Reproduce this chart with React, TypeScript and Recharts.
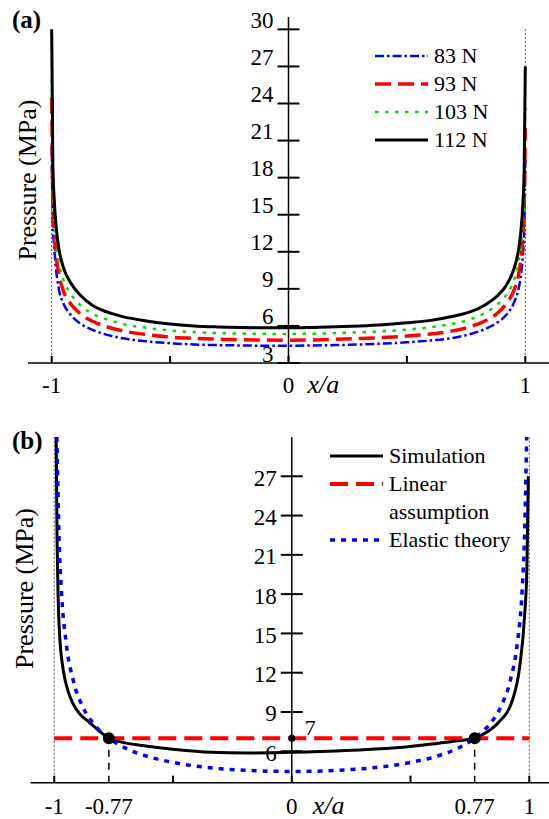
import React from 'react';
import { LineChart, Line, XAxis, YAxis, ReferenceLine, ReferenceDot, Legend, Label } from 'recharts';

const FONT = '"Liberation Serif", "Times New Roman", serif';
const W = 549;

// (a) pressure along the contact for four normal loads
const xA = [-1, -0.995, -0.99, -0.98, -0.97, -0.95, -0.92, -0.88, -0.83, -0.77, -0.7, -0.6, -0.5, -0.4, -0.3, -0.2, -0.1, 0,
  0.1, 0.2, 0.3, 0.4, 0.5, 0.6, 0.7, 0.77, 0.83, 0.88, 0.92, 0.95, 0.97, 0.98, 0.99, 0.995, 1];
const p83 = [20.5, 14, 12.5, 10.3, 9, 7.8, 6.9, 6.2, 5.7, 5.3, 5.0, 4.75, 4.6, 4.5, 4.45, 4.42, 4.4, 4.4,
  4.42, 4.45, 4.5, 4.57, 4.67, 4.82, 5.05, 5.35, 5.75, 6.25, 6.9, 7.8, 8.9, 9.9, 11.8, 13.5, 19.5];
const p93 = [24.5, 16, 13.8, 11.5, 10.2, 8.8, 7.8, 7.0, 6.4, 5.95, 5.6, 5.3, 5.1, 5.0, 4.93, 4.88, 4.86, 4.85,
  4.87, 4.92, 4.98, 5.06, 5.18, 5.35, 5.62, 5.95, 6.4, 7.0, 7.8, 8.8, 10.0, 11.2, 13.3, 15.5, 22];
const p103 = [26, 17.5, 15, 12.6, 11.2, 9.7, 8.6, 7.7, 7.0, 6.55, 6.15, 5.85, 5.62, 5.5, 5.42, 5.38, 5.36, 5.35,
  5.37, 5.42, 5.48, 5.57, 5.7, 5.9, 6.2, 6.55, 7.05, 7.7, 8.5, 9.6, 11, 12.3, 14.6, 17, 24];
const p112 = [30, 19, 16.5, 13.8, 12.3, 10.7, 9.5, 8.5, 7.7, 7.15, 6.75, 6.4, 6.15, 6.0, 5.92, 5.87, 5.85, 5.85,
  5.88, 5.93, 6.0, 6.1, 6.25, 6.45, 6.8, 7.15, 7.7, 8.4, 9.3, 10.5, 12.0, 13.4, 16, 18.5, 27];
const loadNames = ['83 N', '93 N', '103 N', '112 N'];
const yTicksA = [3, 6, 9, 12, 15, 18, 21, 24, 27, 30];
const xTicksA = [-1, -0.5, 0, 0.5, 1];
const xLabelsA = [-1, 0, 1];

// (b) simulation against the linear and elastic-theory distributions
const simX = [-0.992, -0.988, -0.984, -0.98, -0.975, -0.967, -0.955, -0.94, -0.92, -0.89, -0.855, -0.81, -0.77, -0.72,
  -0.63, -0.49, -0.34, -0.19, 0, 0.25, 0.47, 0.62, 0.7, 0.77, 0.82, 0.87, 0.93, 0.96, 0.98, 0.99, 0.996];
const simP = [30, 22, 18, 15.8, 14.2, 12.8, 11.5, 10.5, 9.6, 8.8, 8.25, 7.55, 7.0, 6.72,
  6.44, 6.13, 5.92, 5.87, 5.92, 6.08, 6.3, 6.62, 6.8, 7.0, 7.45, 8.2, 9.95, 12.5, 16.3, 20, 27];
const linX = [-1, 1];
const linP = [7, 7];
const elX = [-0.989, -0.98, -0.97, -0.95, -0.92, -0.88, -0.83, -0.77, -0.7, -0.6, -0.5, -0.4, -0.3, -0.2, -0.1, 0,
  0.1, 0.2, 0.3, 0.4, 0.5, 0.6, 0.7, 0.77, 0.83, 0.88, 0.92, 0.95, 0.97, 0.98, 0.989];
const elP = [30, 22.4, 18.3, 14.3, 11.4, 9.4, 8.0, 7.0, 6.24, 5.57, 5.15, 4.86, 4.67, 4.55, 4.48, 4.46,
  4.48, 4.55, 4.67, 4.86, 5.15, 5.57, 6.24, 7.0, 8.0, 9.4, 11.4, 14.3, 18.3, 22.4, 30];
const crossX = [-0.77, 0.77];
const meanP = 7;
const yTicksB = [6, 9, 12, 15, 18, 21, 24, 27];
const xTicksB = [-1, -0.77, -0.5, 0, 0.5, 0.77, 1];
const xMarksB = [-1, -0.5, 0, 0.5, 1];
const xLabelsB = [-1, -0.77, 0, 0.77, 1];
const methodNames = ['Simulation', 'Linear\nassumption', 'Elastic theory'];

const tableA = xA.map((x, i) => ({ x, p83: p83[i], p93: p93[i], p103: p103[i], p112: p112[i] }));
const simData = simX.map((x, i) => ({ x, p: simP[i] }));
const linData = linX.map((x, i) => ({ x, p: linP[i] }));
const elData = elX.map((x, i) => ({ x, p: elP[i] }));

const stylesA = [
  { key: 'p83', color: '#0000ff', width: 2.5, dash: '9 3 2.5 3' },
  { key: 'p93', color: '#ff0000', width: 3.5, dash: '16 7' },
  { key: 'p103', color: '#00dd00', width: 2.5, dash: '3.5 6.5' },
  { key: 'p112', color: '#000000', width: 3, dash: undefined },
];
const stylesB = [
  { color: '#000000', width: 3, dash: undefined },
  { color: '#ff0000', width: 4, dash: '18 8' },
  { color: '#0000ff', width: 3.5, dash: '5 6' },
];

// the y axis is 1px wide (a zero-width axis is not drawn at all); margins make up for it
const Y_W = 1;
const M_A = { top: 17, right: 0, bottom: 7, left: 27 };
const DOM_XA: [number, number] = [-1.1, 1.1];
const M_B = { top: 32, right: 0, bottom: 6.3, left: 29.5 };
const DOM_XB: [number, number] = [-1.1, 1.083];

const zeroX = (m: { left: number; right: number }, dom: [number, number]) =>
  m.left + Y_W + ((W - m.left - Y_W - m.right) * (0 - dom[0])) / (dom[1] - dom[0]);
const CX_A = zeroX(M_A, DOM_XA);
const CX_B = zeroX(M_B, DOM_XB);

// y ticks drawn across the centre axis, labels to its left
function makeYTick(cx: number, dy: number) {
  return (props: any) => {
    const { y, payload } = props;
    return (
      <g>
        <line x1={cx - 11} x2={cx + 11} y1={y} y2={y} stroke="#000" strokeWidth={2} />
        <text x={cx - 15} y={y + dy} textAnchor="end" dominantBaseline="central" fontSize={23} fill="#000">
          {payload.value}
        </text>
      </g>
    );
  };
}

// inward tick marks on the x axis, labels only on some positions
function makeXTick(marks: number[], labels: number[], dy: number) {
  return (props: any) => {
    const { x, y, payload } = props;
    const v = payload.value;
    return (
      <g>
        {marks.includes(v) && <line x1={x} x2={x} y1={y} y2={y - 7} stroke="#000" strokeWidth={2} />}
        {labels.includes(v) && (
          <text x={x} y={y + dy} textAnchor="middle" fontSize={23} fill="#000">
            {String(v)}
          </text>
        )}
      </g>
    );
  };
}

function LegendBox({ names, styles }: { names: string[]; styles: { color: string; width: number; dash?: string }[] }) {
  const rowH = 28;
  return (
    <div style={{ fontFamily: FONT, fontSize: 22, lineHeight: `${rowH}px`, color: '#000' }}>
      {names.map((name, i) => (
        <div key={name} style={{ display: 'flex', alignItems: 'flex-start' }}>
          <svg width={53} height={rowH} style={{ flex: 'none' }}>
            <line x1={0} x2={53} y1={rowH / 2} y2={rowH / 2} stroke={styles[i].color}
              strokeWidth={styles[i].width} strokeDasharray={styles[i].dash} />
          </svg>
          <div style={{ marginLeft: 6, whiteSpace: 'pre' }}>{name}</div>
        </div>
      ))}
    </div>
  );
}

function PanelA() {
  return (
    <LineChart width={W} height={400} data={tableA} margin={M_A}>
      <XAxis dataKey="x" type="number" domain={DOM_XA} ticks={xTicksA} interval={0} allowDataOverflow
        tick={makeXTick(xTicksA, xLabelsA, 30)} tickLine={false} tickSize={0} tickMargin={0}
        axisLine={{ stroke: '#000', strokeWidth: 1.5 }} height={30}>
        <Label content={(p: any) => (
          <text x={CX_A + 19} y={(p.viewBox?.y ?? 363) + 30} fontSize={26} fontStyle="italic" fill="#000">x/a</text>
        )} />
      </XAxis>
      <YAxis type="number" domain={[3, 31]} ticks={yTicksA} interval={0} allowDataOverflow width={Y_W}
        axisLine={false} tickLine={false} tick={makeYTick(CX_A, -9)}>
        <Label content={() => (
          <text x={36} y={180} transform="rotate(-90 36 180)" textAnchor="middle" fontSize={26} fill="#000">
            Pressure (MPa)
          </text>
        )} />
      </YAxis>
      <ReferenceLine segment={[{ x: -1, y: 3 }, { x: -1, y: 30 }]} stroke="#555" strokeWidth={1} strokeDasharray="2 2" />
      <ReferenceLine segment={[{ x: 1, y: 3 }, { x: 1, y: 30 }]} stroke="#555" strokeWidth={1} strokeDasharray="2 2" />
      <ReferenceLine x={0} stroke="#000" strokeWidth={1.5} />
      {stylesA.map((s, i) => (
        <Line key={s.key} dataKey={s.key} name={loadNames[i]} type="monotone" stroke={s.color}
          strokeWidth={s.width} strokeDasharray={s.dash} dot={false} activeDot={false} isAnimationActive={false} />
      ))}
      <Legend layout="vertical" align="center" verticalAlign="middle"
        wrapperStyle={{ left: 375, top: 41.5, width: 'auto', height: 'auto' }}
        content={() => <LegendBox names={loadNames} styles={stylesA} />} />
    </LineChart>
  );
}

function PanelB() {
  return (
    <LineChart width={W} height={414} margin={M_B}>
      <XAxis dataKey="x" type="number" domain={DOM_XB} ticks={xTicksB} interval={0} allowDataOverflow
        tick={makeXTick(xMarksB, xLabelsB, 31)} tickLine={false} tickSize={0} tickMargin={0}
        axisLine={{ stroke: '#000', strokeWidth: 1.5 }} height={30}>
        <Label content={(p: any) => (
          <text x={CX_B + 21} y={(p.viewBox?.y ?? 377.7) + 31} fontSize={26} fontStyle="italic" fill="#000">x/a</text>
        )} />
      </XAxis>
      <YAxis type="number" domain={[3.6, 30]} ticks={yTicksB} interval={0} allowDataOverflow width={Y_W}
        axisLine={false} tickLine={false} tick={makeYTick(CX_B, 2)}>
        <Label content={() => (
          <text x={33} y={183.5} transform="rotate(-90 33 183.5)" textAnchor="middle" fontSize={26} fill="#000">
            Pressure (MPa)
          </text>
        )} />
      </YAxis>
      <ReferenceLine segment={[{ x: -1, y: 3.6 }, { x: -1, y: 30 }]} stroke="#555" strokeWidth={1} strokeDasharray="2 2" />
      <ReferenceLine segment={[{ x: 1, y: 3.6 }, { x: 1, y: 30 }]} stroke="#555" strokeWidth={1} strokeDasharray="2 2" />
      <ReferenceLine x={0} stroke="#000" strokeWidth={1.5} />
      {crossX.map((cx) => (
        <ReferenceLine key={cx} segment={[{ x: cx, y: 3.6 }, { x: cx, y: meanP }]} stroke="#000"
          strokeWidth={1.5} strokeDasharray="7 6" />
      ))}
      <Line data={simData} dataKey="p" name={methodNames[0]} type="monotone" stroke={stylesB[0].color}
        strokeWidth={stylesB[0].width} dot={false} activeDot={false} isAnimationActive={false} />
      <Line data={linData} dataKey="p" name={methodNames[1]} type="linear" stroke={stylesB[1].color}
        strokeWidth={stylesB[1].width} strokeDasharray={stylesB[1].dash} dot={false} activeDot={false} isAnimationActive={false} />
      <Line data={elData} dataKey="p" name={methodNames[2]} type="monotone" stroke={stylesB[2].color}
        strokeWidth={stylesB[2].width} strokeDasharray={stylesB[2].dash} dot={false} activeDot={false} isAnimationActive={false} />
      {crossX.map((cx) => (
        <ReferenceDot key={cx} x={cx} y={meanP} r={6} fill="#000" stroke="none" />
      ))}
      <ReferenceDot x={0} y={meanP} r={3.5} fill="#000" stroke="none"
        label={{
          content: (p: any) => {
            const vb = p.viewBox || { x: CX_B - 3.5, y: 329.7, width: 7, height: 7 };
            const cx = vb.x + (vb.width || 0) / 2;
            const cy = vb.y + (vb.height || 0) / 2;
            return <text x={cx + 13} y={cy - 3} fontSize={22} fill="#000">{meanP}</text>;
          },
        }} />
      <Legend layout="vertical" align="center" verticalAlign="middle"
        wrapperStyle={{ left: 330, top: 37, width: 'auto', height: 'auto' }}
        content={() => <LegendBox names={methodNames} styles={stylesB} />} />
    </LineChart>
  );
}

export default function App() {
  const tag: React.CSSProperties = { position: 'absolute', left: 12, fontWeight: 'bold', fontSize: 25, lineHeight: '25px' };
  return (
    <div style={{ position: 'absolute', left: 0, top: 0, width: W, height: 819, overflow: 'hidden', background: '#fff', fontFamily: FONT }}>
      <div style={{ position: 'absolute', left: 0, top: 0 }}>
        <PanelA />
      </div>
      <div style={{ position: 'absolute', left: 0, top: 405 }}>
        <PanelB />
      </div>
      <div style={{ ...tag, top: 7 }}>(a)</div>
      <div style={{ ...tag, top: 428 }}>(b)</div>
    </div>
  );
}
